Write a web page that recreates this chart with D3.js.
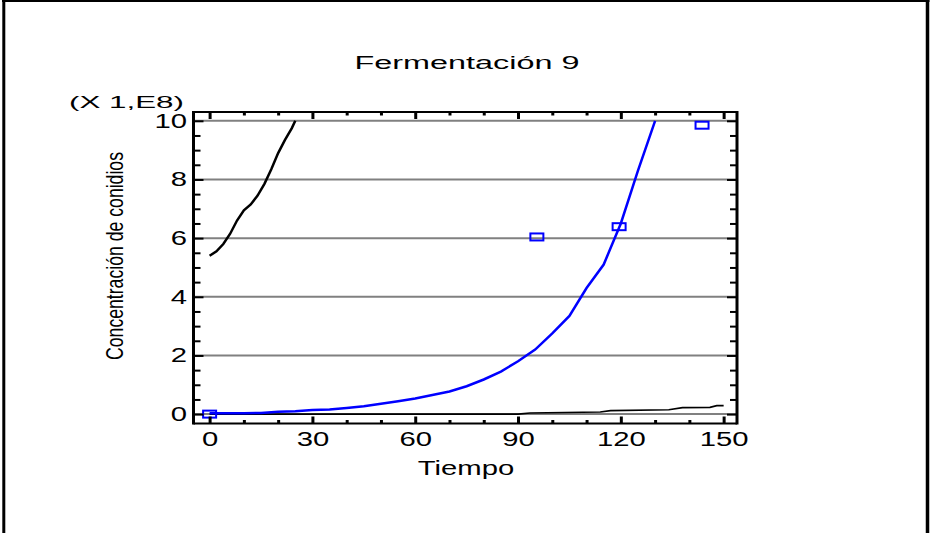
<!DOCTYPE html>
<html>
<head>
<meta charset="utf-8">
<script src="https://cdnjs.cloudflare.com/ajax/libs/d3/7.8.5/d3.min.js"></script>
<style>
  body { margin: 0; background: #fff; }
  text { font-family: "Liberation Sans", Arial, sans-serif; fill: #000; }
</style>
</head>
<body>
<div id="chart"></div>
<script>
// curva del modelo (azul)
var tiempoModelo = [0, 5, 10, 15, 20, 25, 30, 35, 40, 45, 50, 55, 60, 65, 70, 75, 80, 85, 90, 95, 100, 105, 110, 115, 120, 125, 130];
var valorModelo = [0.03, 0.03, 0.03, 0.04, 0.08, 0.1, 0.14, 0.16, 0.21, 0.27, 0.35, 0.44, 0.53, 0.65, 0.77, 0.95, 1.18, 1.45, 1.8, 2.2, 2.75, 3.35, 4.3, 5.1, 6.5, 8.3, 10];

// curva negra superior
var tiempoSup = [0, 2, 4, 6, 8, 10, 12, 14, 16, 18, 20, 22, 24, 25];
var valorSup = [5.4, 5.55, 5.8, 6.15, 6.6, 6.95, 7.15, 7.45, 7.85, 8.35, 8.9, 9.35, 9.75, 10];

// curva negra inferior
var tiempoInf = [0, 90, 93.5, 114, 117, 134, 138, 146, 148, 150];
var valorInf = [0, 0, 0.04, 0.07, 0.12, 0.15, 0.22, 0.23, 0.29, 0.29];

// datos observados
var tiempoObs = [0, 95.5, 119.5, 143.7];
var valorObs = [0.0, 6.04, 6.39, 9.85];

var xTicks = [0, 30, 60, 90, 120, 150];
var yTicks = [0, 2, 4, 6, 8, 10];

(function() {
  var width = 932, height = 533;
  var frame = { left: 193.5, right: 737, top: 112, bottom: 423.5 };

  var svg = d3.select("#chart")
    .append("svg")
    .attr("width", width)
    .attr("height", height);

  var x = d3.scaleLinear().domain([-4.7, 153.9]).range([frame.left, frame.right]);
  var y = d3.scaleLinear().domain([-0.32, 10.3]).range([frame.bottom, frame.top]);

  // borde exterior (sin borde inferior)
  svg.append("line").attr("x1", 3.8).attr("x2", 3.8).attr("y1", 0).attr("y2", height)
    .attr("stroke", "#000").attr("stroke-width", 3);
  svg.append("line").attr("x1", 2).attr("x2", 929.5).attr("y1", 1).attr("y2", 1)
    .attr("stroke", "#000").attr("stroke-width", 2);
  svg.append("line").attr("x1", 927.5).attr("x2", 927.5).attr("y1", 0).attr("y2", height)
    .attr("stroke", "#000").attr("stroke-width", 3.5);

  // lineas de cuadricula
  svg.append("g").selectAll("line")
    .data(yTicks)
    .enter().append("line")
    .attr("x1", frame.left).attr("x2", frame.right)
    .attr("y1", function(d) { return y(d) }).attr("y2", function(d) { return y(d) })
    .attr("stroke", "#808080").attr("stroke-width", 2);

  var line = d3.line()
    .x(function(d) { return x(d[0]) })
    .y(function(d) { return y(d[1]) });

  svg.append("path")
    .datum(d3.zip(tiempoInf, valorInf))
    .attr("d", line).attr("fill", "none")
    .attr("stroke", "#000").attr("stroke-width", 1.6);

  svg.append("path")
    .datum(d3.zip(tiempoSup, valorSup))
    .attr("d", line).attr("fill", "none")
    .attr("stroke", "#000").attr("stroke-width", 2.5);

  svg.append("path")
    .datum(d3.zip(tiempoModelo, valorModelo))
    .attr("d", line).attr("fill", "none")
    .attr("stroke", "#0000ff").attr("stroke-width", 2.5);

  svg.append("g").selectAll("rect")
    .data(d3.zip(tiempoObs, valorObs))
    .enter().append("rect")
    .attr("x", function(d) { return x(d[0]) - 6.5 })
    .attr("y", function(d) { return y(d[1]) - 3.5 })
    .attr("width", 13).attr("height", 7)
    .attr("fill", "none").attr("stroke", "#0000ff").attr("stroke-width", 2);

  // ejes con marcas hacia dentro
  var xMinor = d3.range(0, 151, 10).filter(function(d) { return xTicks.indexOf(d) < 0 });
  var yMinor = d3.range(0, 10.01, 0.5).filter(function(d) { return yTicks.indexOf(d) < 0 });

  function styleAxis(g, w) {
    g.select(".domain").remove();
    g.selectAll(".tick line").attr("stroke", "#000").attr("stroke-width", w);
    g.selectAll(".tick text").remove();
  }

  svg.append("g").attr("transform", "translate(0," + frame.bottom + ")")
    .call(d3.axisBottom(x).tickValues(xTicks).tickSize(-7)).call(styleAxis, 3);
  svg.append("g").attr("transform", "translate(0," + frame.bottom + ")")
    .call(d3.axisBottom(x).tickValues(xMinor).tickSize(-3.5)).call(styleAxis, 3);
  svg.append("g").attr("transform", "translate(0," + frame.top + ")")
    .call(d3.axisTop(x).tickValues(xTicks).tickSize(-7)).call(styleAxis, 3);
  svg.append("g").attr("transform", "translate(0," + frame.top + ")")
    .call(d3.axisTop(x).tickValues(xMinor).tickSize(-3.5)).call(styleAxis, 3);

  svg.append("g").attr("transform", "translate(" + frame.left + ",0)")
    .call(d3.axisLeft(y).tickValues(yTicks).tickSize(-10)).call(styleAxis, 2);
  svg.append("g").attr("transform", "translate(" + frame.left + ",0)")
    .call(d3.axisLeft(y).tickValues(yMinor).tickSize(-7)).call(styleAxis, 2);
  svg.append("g").attr("transform", "translate(" + frame.right + ",0)")
    .call(d3.axisRight(y).tickValues(yTicks).tickSize(-10)).call(styleAxis, 2);
  svg.append("g").attr("transform", "translate(" + frame.right + ",0)")
    .call(d3.axisRight(y).tickValues(yMinor).tickSize(-7)).call(styleAxis, 2);

  // marco del grafico
  svg.append("line").attr("x1", frame.left).attr("x2", frame.left)
    .attr("y1", frame.top - 1).attr("y2", frame.bottom + 1)
    .attr("stroke", "#000").attr("stroke-width", 3);
  svg.append("line").attr("x1", frame.right).attr("x2", frame.right)
    .attr("y1", frame.top - 1).attr("y2", frame.bottom + 1)
    .attr("stroke", "#000").attr("stroke-width", 3);
  svg.append("line").attr("x1", frame.left).attr("x2", frame.right)
    .attr("y1", frame.top).attr("y2", frame.top)
    .attr("stroke", "#000").attr("stroke-width", 2);
  svg.append("line").attr("x1", frame.left).attr("x2", frame.right)
    .attr("y1", frame.bottom).attr("y2", frame.bottom)
    .attr("stroke", "#000").attr("stroke-width", 2);

  // etiquetas (texto estirado en horizontal como en el original)
  svg.append("g").selectAll("text")
    .data(xTicks)
    .enter().append("text")
    .text(function(d) { return d })
    .attr("transform", function(d) { return "translate(" + (x(d) + 0.5) + ",446) scale(1.5,1)" })
    .attr("text-anchor", "middle")
    .attr("font-size", "19.5px");

  svg.append("g").selectAll("text")
    .data(yTicks)
    .enter().append("text")
    .text(function(d) { return d })
    .attr("transform", function(d) { return "translate(187," + (y(d) + 7) + ") scale(1.5,1)" })
    .attr("text-anchor", "end")
    .attr("font-size", "19.5px");

  svg.append("text")
    .text("Fermentación 9")
    .attr("transform", "translate(467,68.5) scale(1.85,1)")
    .attr("text-anchor", "middle")
    .attr("font-size", "17.5px");

  svg.append("text")
    .text("(X 1,E8)")
    .attr("transform", "translate(69,107.5) scale(1.9,1)")
    .attr("text-anchor", "start")
    .attr("font-size", "16.5px");

  svg.append("text")
    .text("Tiempo")
    .attr("transform", "translate(466,475) scale(1.5,1)")
    .attr("text-anchor", "middle")
    .attr("font-size", "19.5px");

  svg.append("text")
    .text("Concentración de conidios")
    .attr("transform", "translate(123,256) rotate(-90)")
    .attr("text-anchor", "middle")
    .attr("textLength", 208)
    .attr("lengthAdjust", "spacingAndGlyphs")
    .attr("font-size", "24px");
})();
</script>
</body>
</html>
